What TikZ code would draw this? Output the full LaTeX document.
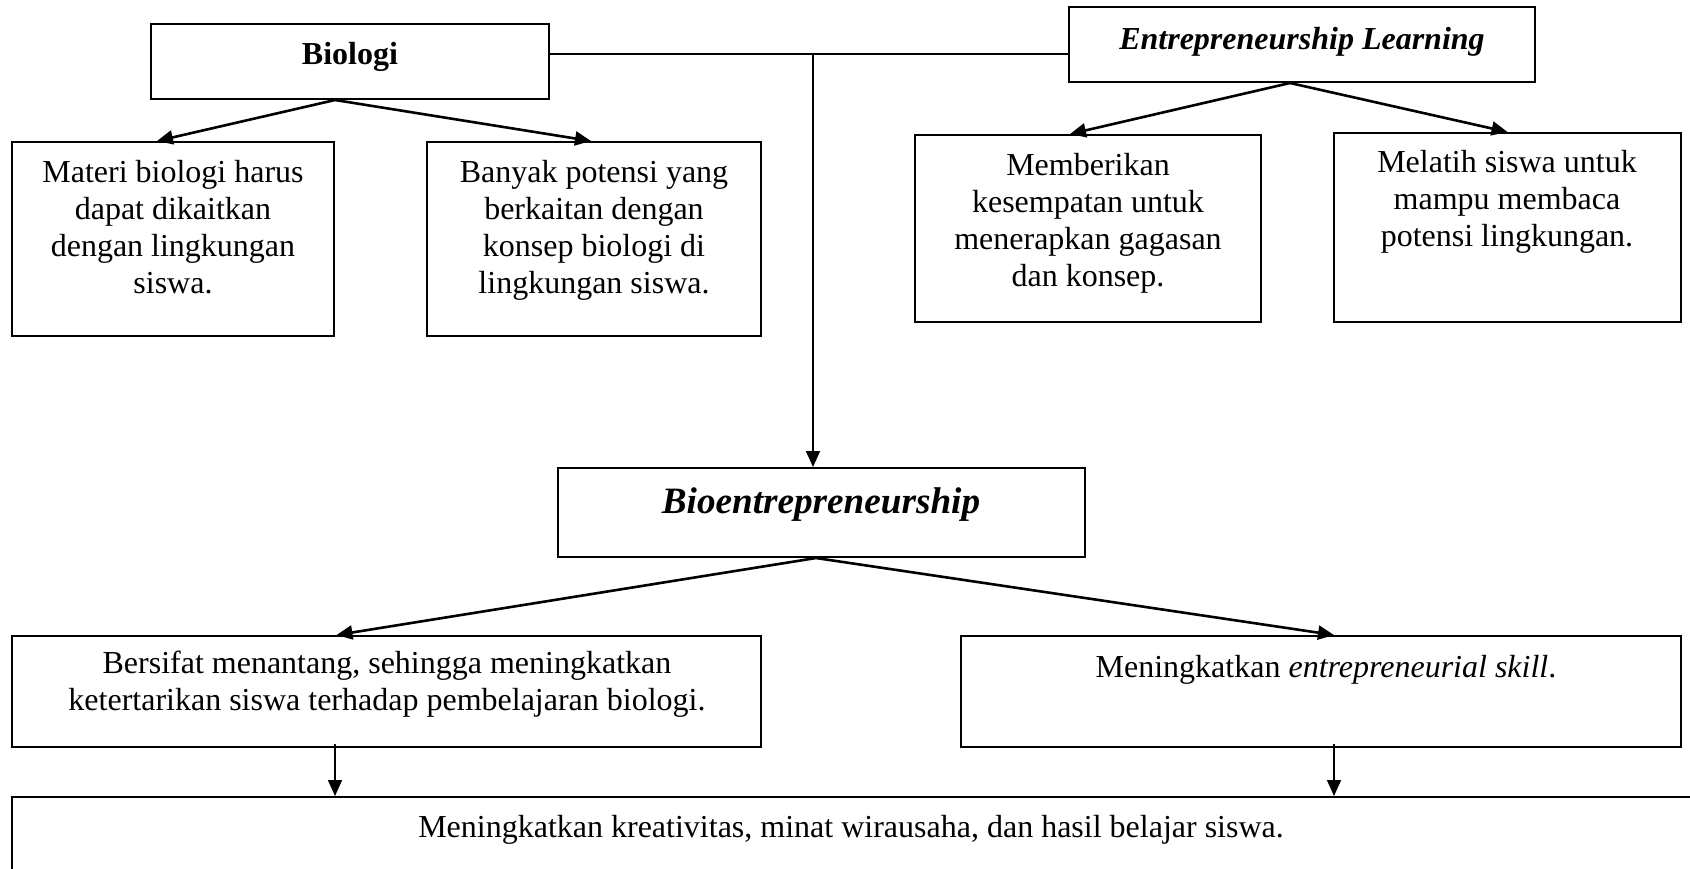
\documentclass[tikz,border=0pt]{standalone}
\usepackage{fontspec}
\setmainfont{Liberation Serif}
\usetikzlibrary{fit,arrows.meta,calc}
\begin{document}
\begin{tikzpicture}[x=0.5pt,y=-0.5pt,
 box/.style={draw, line width=1pt, inner sep=0pt, rectangle},
 txt/.style={inner sep=0pt, align=center, font=\fontsize{16}{18.4}\selectfont, anchor=north},
 bigtxt/.style={inner sep=0pt, align=center, font=\fontsize{18.6}{21}\selectfont\bfseries\itshape, anchor=north},
 arr/.style={line width=1.3pt, -{Triangle[length=8pt,width=7pt]}},
 varr/.style={line width=0.8pt, -{Triangle[length=8pt,width=7pt]}},
 link/.style={line width=0.8pt}]
\useasboundingbox (0,0) rectangle (1690,868);
% boxes
\node[box, fit={(151,24) (549,99)}] (bio) {};
\node[box, fit={(1069,7) (1535,82)}] (el) {};
\node[box, fit={(12,142) (334,336)}] (materi) {};
\node[box, fit={(427,142) (761,336)}] (banyak) {};
\node[box, fit={(915,135) (1261,322)}] (memb) {};
\node[box, fit={(1334,133) (1681,322)}] (melatih) {};
\node[box, fit={(558,468) (1085,557)}] (bioe) {};
\node[box, fit={(12,636) (761,747)}] (bers) {};
\node[box, fit={(961,636) (1681,747)}] (ment) {};
\node[box, fit={(12,797) (1720,900)}] (hasil) {};
% texts
\node[txt] (biot) at (350,42) {\textbf{Biologi}};
\node[txt] (elt) at (1302,27) {\textbf{\textit{Entrepreneurship Learning}}};
\node[txt] (materit) at (173,160) {Materi biologi harus\\dapat dikaitkan\\dengan lingkungan\\siswa.};
\node[txt] (banyakt) at (594,160) {Banyak potensi yang\\berkaitan dengan\\konsep biologi di\\lingkungan siswa.};
\node[txt] (membt) at (1088,153) {Memberikan\\kesempatan untuk\\menerapkan gagasan\\dan konsep.};
\node[txt] (melatiht) at (1507,150) {Melatih siswa untuk\\mampu membaca\\potensi lingkungan.};
\node[bigtxt] (bioet) at (821,487) {Bioentrepreneurship};
\node[txt] (berst) at (387,651) {Bersifat menantang, sehingga meningkatkan\\ketertarikan siswa terhadap pembelajaran biologi.};
\node[txt] (mentt) at (1326,655) {Meningkatkan \textit{entrepreneurial skill}.};
\node[txt] (hasilt) at (851,815) {Meningkatkan kreativitas, minat wirausaha, dan hasil belajar siswa.};
% connectors
\coordinate (j) at (813,54);
\draw[link] (bio.east |- j) -- (el.west |- j);
\draw[varr] (j) -- (bioe.north -| j);
\draw[arr] ([xshift=-7.5pt]bio.south) -- ([xshift=-8pt]materi.north);
\draw[arr] ([xshift=-7.5pt]bio.south) -- ([xshift=-1.5pt]banyak.north);
\draw[arr] ([xshift=-6pt]el.south) -- ([xshift=-9pt]memb.north);
\draw[arr] ([xshift=-6pt]el.south) -- (melatih.north);
\draw[arr] ([xshift=-2.75pt]bioe.south) -- ([xshift=-25pt]bers.north);
\draw[arr] ([xshift=-2.75pt]bioe.south) -- ([xshift=6.5pt]ment.north);
\coordinate (d1) at (335,0);
\coordinate (d2) at (1334,0);
\draw[varr] ([yshift=2pt]bers.south -| d1) -- (hasil.north -| d1);
\draw[varr] ([yshift=2pt]ment.south -| d2) -- (hasil.north -| d2);
\end{tikzpicture}
\end{document}
